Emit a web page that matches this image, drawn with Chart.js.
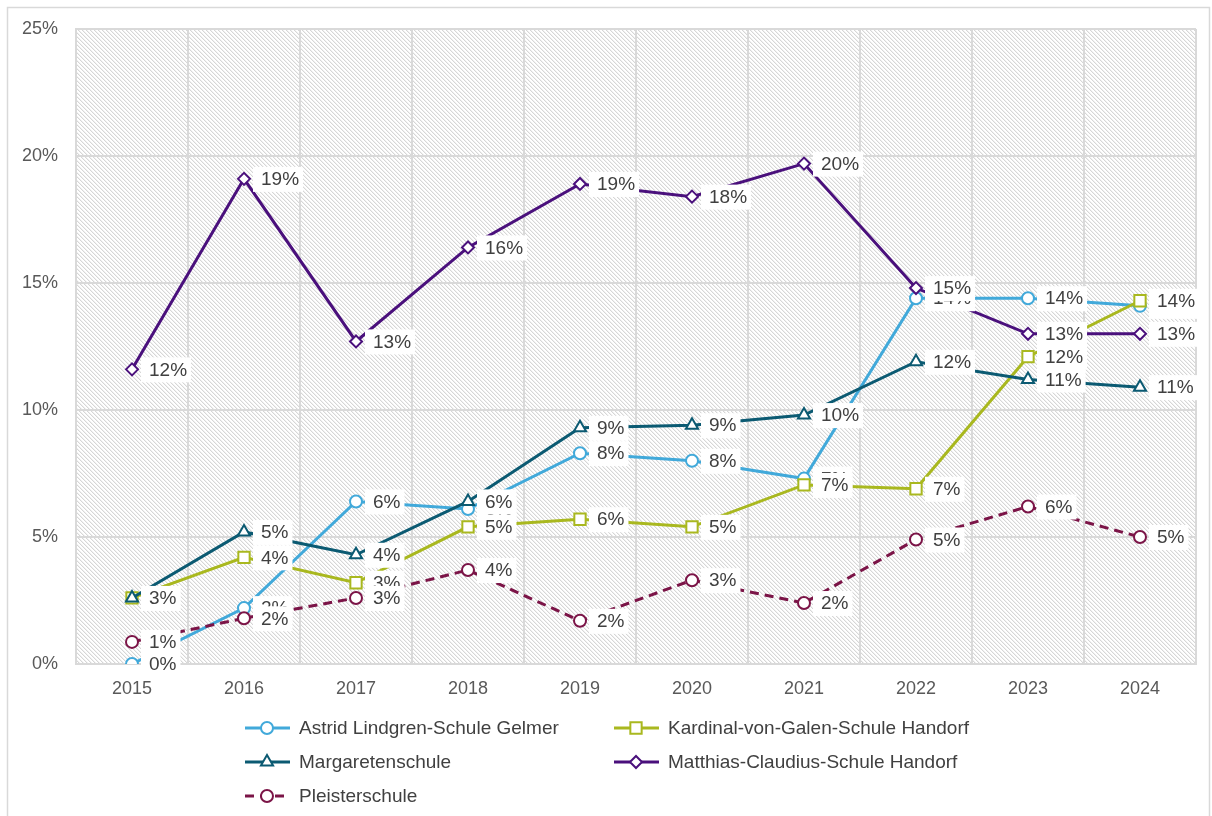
<!DOCTYPE html>
<html>
<head>
<meta charset="utf-8">
<script src="https://cdn.jsdelivr.net/npm/chart.js@4.4.1/dist/chart.umd.min.js"></script>
<style>
  html, body { margin: 0; padding: 0; background: #fff; }
  #wrap { width: 1212px; height: 816px; position: relative; }
</style>
</head>
<body>
<div id="wrap"><canvas id="chart"></canvas></div>
<script>
const years = ['2015', '2016', '2017', '2018', '2019', '2020', '2021', '2022', '2023', '2024'];
const yTicks = [0, 5, 10, 15, 20, 25];

const seriesNames = [
    'Astrid Lindgren-Schule Gelmer',
    'Kardinal-von-Galen-Schule Handorf',
    'Margaretenschule',
    'Matthias-Claudius-Schule Handorf',
    'Pleisterschule'
];

// shares in percent
const astrid    = [0.0, 2.2, 6.4, 6.1, 8.3, 8.0, 7.3, 14.4, 14.4, 14.1];
const kardinal  = [2.6, 4.2, 3.2, 5.4, 5.7, 5.4, 7.05, 6.9, 12.1, 14.3];
const margareten = [2.6, 5.2, 4.3, 6.4, 9.3, 9.4, 9.8, 11.9, 11.2, 10.9];
const matthias  = [11.6, 19.1, 12.7, 16.4, 18.9, 18.4, 19.7, 14.8, 13.0, 13.0];
const pleister  = [0.87, 1.8, 2.6, 3.7, 1.7, 3.3, 2.4, 4.9, 6.2, 5.0];

const seriesData = [astrid, kardinal, margareten, matthias, pleister];
const colors = ['#41a9da', '#a9b81f', '#0b5a72', '#4a107c', '#7b1447'];
const markers = ['circle', 'rect', 'triangle', 'rectRot', 'circle'];
const markerSizes = [6, 8, 7, 6, 6];
const dashes = [[], [], [], [], [9, 6]];

const FONT = "'Liberation Sans', Arial, sans-serif";
const TEXT = '#404040';

// hatch pattern for the plot background
function makeHatch() {
    const c = document.createElement('canvas');
    c.width = 4; c.height = 4;
    const g = c.getContext('2d');
    g.fillStyle = '#ffffff';
    g.fillRect(0, 0, 4, 4);
    for (let k = 0; k < 4; k++) {
        g.fillStyle = '#d6d6d6';
        g.fillRect(k, k, 1, 1);
        g.fillStyle = '#f1f1f1';
        g.fillRect((k + 1) % 4, k, 1, 1);
    }
    return c;
}

const backgroundPlugin = {
    id: 'plotBackground',
    beforeDraw(chart) {
        const { ctx, chartArea } = chart;
        ctx.save();
        ctx.fillStyle = '#fff';
        ctx.fillRect(0, 0, chart.width, chart.height);
        ctx.strokeStyle = '#d9d9d9';
        ctx.lineWidth = 1.5;
        ctx.strokeRect(7.5, 7.5, chart.width - 10, chart.height + 10);
        ctx.fillStyle = ctx.createPattern(makeHatch(), 'repeat');
        ctx.fillRect(chartArea.left, chartArea.top, chartArea.right - chartArea.left, chartArea.bottom - chartArea.top);
        ctx.restore();
    }
};

// value labels right of each point, white box behind
const labelPlugin = {
    id: 'valueLabels',
    afterDatasetsDraw(chart) {
        const ctx = chart.ctx;
        ctx.save();
        ctx.font = '19px ' + FONT;
        ctx.textBaseline = 'middle';
        chart.data.datasets.forEach((ds, i) => {
            const meta = chart.getDatasetMeta(i);
            meta.data.forEach((pt, j) => {
                const txt = Math.round(ds.data[j]) + '%';
                const w = ctx.measureText(txt).width;
                ctx.fillStyle = '#ffffff';
                ctx.fillRect(pt.x + 9, pt.y - 12, w + 12, 25);
                ctx.fillStyle = TEXT;
                ctx.fillText(txt, pt.x + 17, pt.y + 1);
            });
        });
        ctx.restore();
    }
};

const legendPlugin = {
    id: 'gridLegend',
    afterDraw(chart) {
        const ctx = chart.ctx;
        const cols = [245, 614];
        const rows = [728, 762, 796];
        ctx.save();
        chart.data.datasets.forEach((ds, i) => {
            const x = cols[i % 2];
            const y = rows[Math.floor(i / 2)];
            ctx.strokeStyle = ds.borderColor;
            ctx.lineWidth = 3;
            ctx.setLineDash(ds.borderDash || []);
            ctx.beginPath();
            ctx.moveTo(x, y);
            ctx.lineTo(x + 45, y);
            ctx.stroke();
            ctx.setLineDash([]);
            ctx.fillStyle = '#fff';
            ctx.strokeStyle = ds.borderColor;
            ctx.lineWidth = ds.pointBorderWidth;
            Chart.helpers.drawPoint(ctx, {
                pointStyle: ds.pointStyle,
                radius: ds.pointRadius,
                borderWidth: ds.pointBorderWidth,
                rotation: 0
            }, x + 22, y);
            ctx.fillStyle = TEXT;
            ctx.font = '19px ' + FONT;
            ctx.textBaseline = 'middle';
            ctx.fillText(ds.label, x + 54, y + 1);
        });
        ctx.restore();
    }
};

const datasets = seriesNames.map((name, i) => ({
    label: name,
    data: seriesData[i],
    borderColor: colors[i],
    backgroundColor: '#ffffff',
    borderWidth: 3,
    borderDash: dashes[i],
    pointStyle: markers[i],
    pointRadius: markerSizes[i],
    pointBorderWidth: 2,
    pointBackgroundColor: '#ffffff',
    pointBorderColor: colors[i],
    tension: 0,
    order: seriesNames.length - i
}));

new Chart(document.getElementById('chart'), {
    type: 'line',
    data: { labels: years, datasets: datasets },
    plugins: [backgroundPlugin, labelPlugin, legendPlugin],
    options: {
        responsive: true,
        maintainAspectRatio: false,
        animation: false,
        layout: { padding: { top: 29, right: 16, bottom: 112, left: 0 } },
        plugins: {
            legend: { display: false },
            tooltip: { enabled: false }
        },
        scales: {
            x: {
                offset: true,
                grid: { offset: true, color: '#d9d9d9', lineWidth: 2, drawTicks: false },
                border: { color: '#d9d9d9', width: 2 },
                ticks: { color: '#595959', font: { family: FONT, size: 18 }, padding: 14 },
                afterFit: scale => { scale.height = 40; }
            },
            y: {
                min: 0,
                max: 25,
                afterBuildTicks: scale => { scale.ticks = yTicks.map(v => ({ value: v })); },
                grid: { color: '#d9d9d9', lineWidth: 2, drawTicks: false },
                border: { color: '#d9d9d9', width: 2 },
                ticks: {
                    color: '#595959',
                    font: { family: FONT, size: 18 },
                    padding: 18,
                    callback: v => v + '%'
                },
                afterFit: scale => { scale.width = 76; }
            }
        }
    }
});
</script>
</body>
</html>
